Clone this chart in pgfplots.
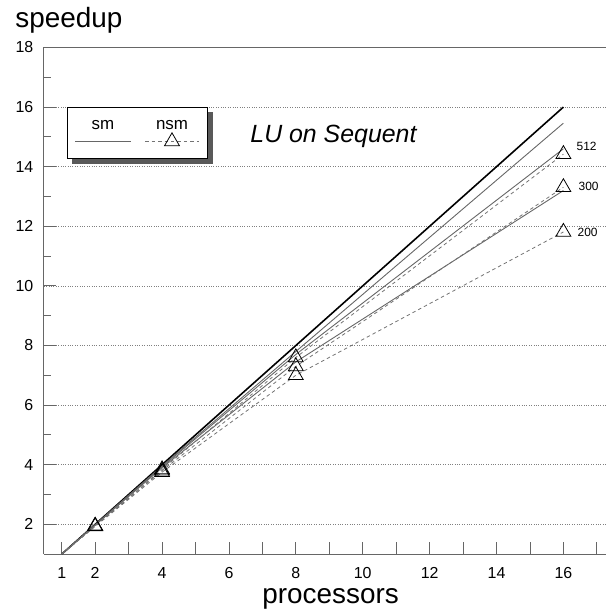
\documentclass[border=0pt]{standalone}
\usepackage{fontspec}
\setmainfont{Liberation Sans}
\usepackage{pgfplots}
\pgfplotsset{compat=1.18}
\begin{document}
\begin{tikzpicture}
\begin{axis}[
  scale only axis,
  width=565pt, height=509pt,
  xmin=0.464, xmax=17.28, ymin=1, ymax=18,
  axis x line*=box, axis y line*=left,
  xtick pos=left, xticklabel pos=left,
  xtick={1,2,...,17},
  xticklabels={1,2,,4,,6,,8,,10,,12,,14,,16,},
  ytick={2,4,...,18},
  minor ytick={3,5,...,17},
  tick align=inside,
  major tick length=12pt,
  minor tick length=7pt,
  ymajorgrids,
  major grid style={dotted, black!50, line width=0.55pt},
  axis line style={black!60, line width=1pt},
  every tick/.style={black!60, line width=0.9pt},
  /pgf/number format/assume math mode=true,
  tick label style={font=\fontsize{16}{18}\selectfont},
  xticklabel style={anchor=base, yshift=-24pt},
  yticklabel style={anchor=east, xshift=-7pt},
  ylabel={speedup},
  every axis y label/.style={at={(axis description cs:-0.0566,1.0393)}, anchor=base west, font=\fontsize{28}{30}\selectfont},
  xlabel={processors},
  every axis x label/.style={at={(axis description cs:0.51,-0.0982)}, anchor=base, font=\fontsize{28}{30}\selectfont},
  clip=false,
  legend columns=2,
  legend style={at={(axis description cs:0.0407,0.883)}, anchor=north west, draw=none, fill=none, inner sep=0pt, column sep=0pt, row sep=0pt, nodes={inner sep=0pt}},
]
\addlegendimage{legend image code/.code={
  \fill[black!65, overlay] (-31pt,-21.6pt) rectangle (110pt,29.4pt);
  \filldraw[fill=white, draw=black, line width=0.8pt, overlay] (-36pt,-16.6pt) rectangle (105pt,34.4pt);
  \path (-36pt,-16.6pt) (34.5pt,34.4pt);
  \draw[black!60, line width=0.9pt, solid] (-28pt,0pt) -- (28.5pt,0pt);
  \node[anchor=base, inner sep=0pt, font=\fontsize{17}{19}\selectfont] at (0pt,12.4pt) {sm};
}}
\addlegendentry{}
\addlegendimage{legend image code/.code={
  \path (-33.5pt,-16.6pt) (37pt,34.4pt);
  \draw[black!55, line width=0.8pt, dash pattern=on 3.5pt off 3pt, mark=triangle, mark size=8.6pt, mark options={solid, draw=black, line width=0.8pt, fill=none}, mark repeat=2, mark phase=2] plot coordinates {(-27pt,0pt) (0pt,0pt) (27pt,0pt)};
  \node[anchor=base, inner sep=0pt, font=\fontsize{17}{19}\selectfont] at (0pt,12.4pt) {nsm};
}}
\addlegendentry{}

% ideal speedup
\addplot[black, line width=1.6pt] coordinates {(1,1) (16,16)};
% sm
\addplot[black!60, line width=0.9pt] coordinates {(1,1) (2,1.99) (4,3.96) (8,7.8) (16,15.46)};
\addplot[black!60, line width=0.9pt] coordinates {(1,1) (2,1.98) (4,3.93) (8,7.7) (16,14.6)};
\addplot[black!60, line width=0.9pt] coordinates {(1,1) (2,1.97) (4,3.9) (8,7.45) (16,13.2)};
% nsm
\addplot[black!55, line width=0.8pt, dash pattern=on 3.5pt off 3pt, mark=triangle, mark size=8.6pt, mark indices={2,3,4,5}, mark options={solid, draw=black, line width=0.8pt, fill=none}] coordinates {(1,1) (2,1.95) (4,3.84) (8,7.6) (16,14.42)};
\addplot[black!55, line width=0.8pt, dash pattern=on 3.5pt off 3pt, mark=triangle, mark size=8.6pt, mark indices={2,3,4,5}, mark options={solid, draw=black, line width=0.8pt, fill=none}] coordinates {(1,1) (2,1.94) (4,3.8) (8,7.3) (16,13.31)};
\addplot[black!55, line width=0.8pt, dash pattern=on 3.5pt off 3pt, mark=triangle, mark size=8.6pt, mark indices={2,3,4,5}, mark options={solid, draw=black, line width=0.8pt, fill=none}] coordinates {(1,1) (2,1.93) (4,3.75) (8,7.0) (16,11.81)};

\node[anchor=base, font=\fontsize{25}{27}\selectfont\itshape] at (axis cs:9.125,14.8) {LU on Sequent};
\node[anchor=west, inner sep=0pt, font=\fontsize{12}{14}\selectfont] at (axis cs:16.39,14.67) {512};
\node[anchor=west, inner sep=0pt, font=\fontsize{12}{14}\selectfont] at (axis cs:16.45,13.34) {300};
\node[anchor=west, inner sep=0pt, font=\fontsize{12}{14}\selectfont] at (axis cs:16.42,11.81) {200};

\path ([xshift=-44pt,yshift=-56.3pt]rel axis cs:0,0) rectangle ([yshift=47.7pt]rel axis cs:1,1);
\end{axis}
\end{tikzpicture}
\end{document}
